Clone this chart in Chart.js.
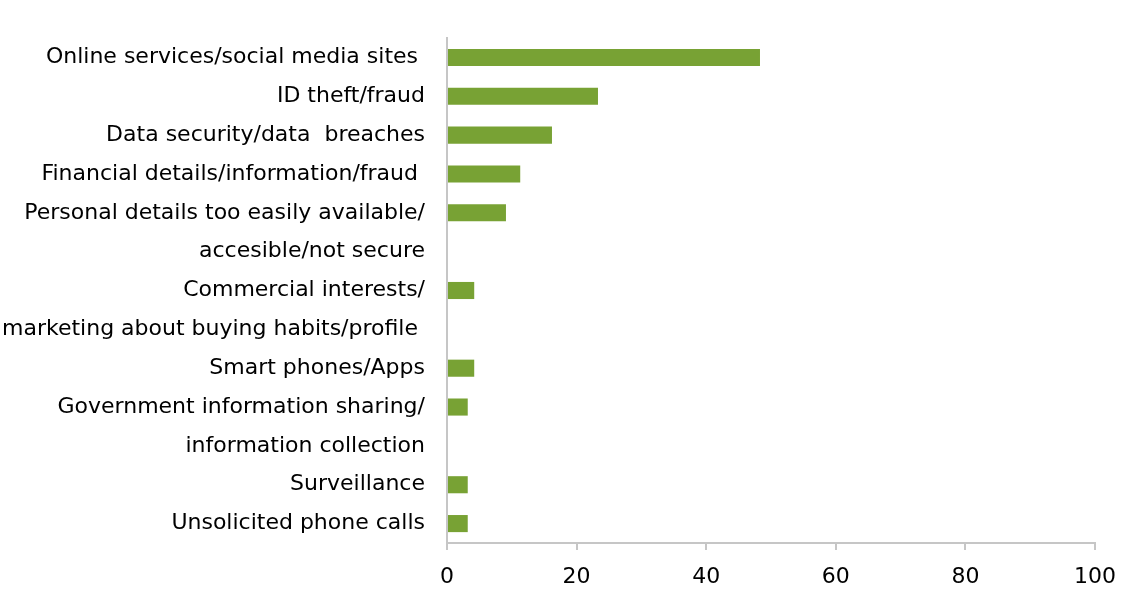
<!DOCTYPE html>
<html>
<head>
<meta charset="utf-8">
<script src="https://cdn.jsdelivr.net/npm/chart.js@4"></script>
<style>
html,body{margin:0;padding:0;background:#fff;}
#wrap{width:1124px;height:598px;}
</style>
</head>
<body>
<div id="wrap"><canvas id="c" width="1124" height="598"></canvas></div>
<script>
const categories = [
  "Online services/social media sites ",
  "ID theft/fraud",
  "Data security/data  breaches",
  "Financial details/information/fraud ",
  "Personal details too easily available/",
  "accesible/not secure",
  "Commercial interests/",
  "marketing about buying habits/profile ",
  "Smart phones/Apps",
  "Government information sharing/",
  "information collection",
  "Surveillance",
  "Unsolicited phone calls"
];
const values = [48.3, 23.3, 16.2, 11.3, 9.1, null, 4.2, null, 4.2, 3.2, null, 3.2, 3.2];
const xTicks = [0, 20, 40, 60, 80, 100];

const FONT = "'DejaVu Sans', 'Liberation Sans', Arial, sans-serif";
new Chart(document.getElementById('c'), {
  type: 'bar',
  data: {
    labels: categories,
    datasets: [{
      data: values,
      backgroundColor: '#78a234',
      borderWidth: 0,
      categoryPercentage: 1.0,
      barPercentage: 0.44
    }]
  },
  options: {
    indexAxis: 'y',
    responsive: false,
    animation: false,
    layout: { padding: { top: 38, right: 29, bottom: 0, left: 0 } },
    plugins: { legend: { display: false }, tooltip: { enabled: false } },
    scales: {
      x: {
        min: 0, max: 100,
        afterBuildTicks: (s) => { s.ticks = xTicks.map(v => ({ value: v })); },
        afterFit: (s) => { s.height = 55; s.paddingRight = 0; s.paddingLeft = 0; },
        grid: { drawOnChartArea: false, drawTicks: true, tickLength: 7, color: '#c6c6c6', lineWidth: 2 },
        border: { display: true, color: '#c6c6c6', width: 2 },
        ticks: { color: '#000', font: { family: FONT, size: 22 }, padding: 14, maxRotation: 0 }
      },
      y: {
        afterFit: (s) => { s.width = 447; s.paddingTop = 0; s.paddingBottom = 0; },
        grid: { display: false },
        border: { display: true, color: '#c6c6c6', width: 2 },
        ticks: { color: '#000', font: { family: FONT, size: 22 }, padding: 14, autoSkip: false }
      }
    }
  }
});
</script>
</body>
</html>
